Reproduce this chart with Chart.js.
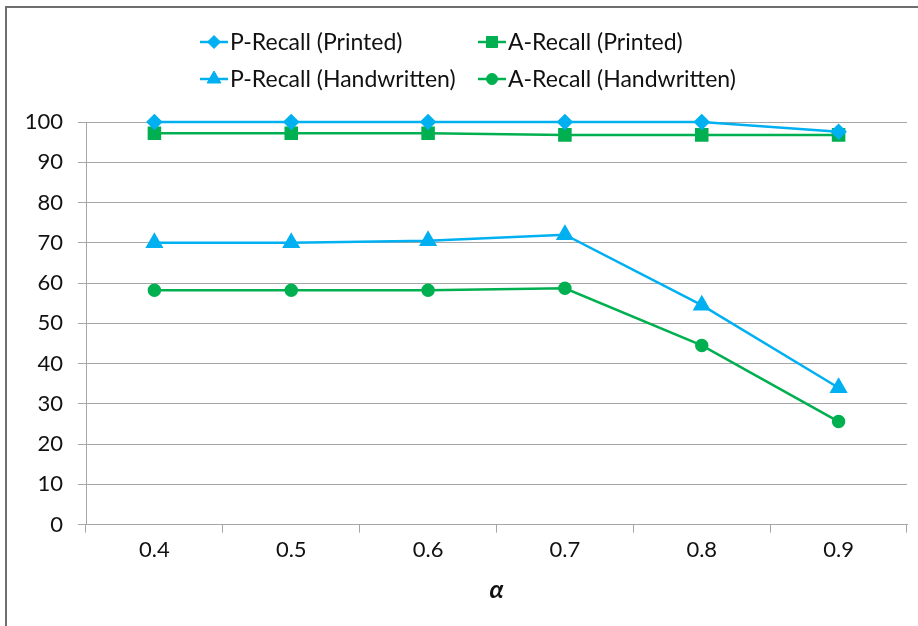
<!DOCTYPE html>
<html>
<head>
<meta charset="utf-8">
<title>Recall vs alpha</title>
<script src="https://cdn.jsdelivr.net/npm/chart.js@4/dist/chart.umd.min.js"></script>
<style>
  html, body { margin: 0; padding: 0; background: #ffffff; }
  #wrap { width: 918px; height: 626px; position: relative; }
</style>
</head>
<body>
<div id="wrap"><canvas id="chart" width="918" height="626"></canvas></div>
<script>
// Threshold values on the x axis
const alphaLabels = ['0.4', '0.5', '0.6', '0.7', '0.8', '0.9'];

// Recall (%) per threshold
const pRecallPrinted     = [100, 100, 100, 100, 100, 97.6];
const aRecallPrinted     = [97.2, 97.2, 97.2, 96.8, 96.8, 96.8];
const pRecallHandwritten = [70, 70, 70.5, 72, 54.5, 34];
const aRecallHandwritten = [58.2, 58.2, 58.2, 58.7, 44.5, 25.6];

// Y axis range
const yMin = 0, yMax = 100, yStep = 10;

const BLUE = '#00b0f0';
const GREEN = '#00b050';
const FONT = 'Lato, "Open Sans", sans-serif';

// White page background plus the frame drawn around the figure
const frame = {
  id: 'frame',
  beforeDraw(chart) {
    const { ctx, width, height } = chart;
    ctx.save();
    ctx.fillStyle = '#ffffff';
    ctx.fillRect(0, 0, width, height);
    ctx.restore();
  },
  afterDraw(chart) {
    const { ctx, width, height } = chart;
    ctx.save();
    ctx.strokeStyle = '#6e6e6e';
    ctx.lineWidth = 2;
    ctx.beginPath();
    ctx.moveTo(width, 7);
    ctx.lineTo(6, 7);
    ctx.lineTo(6, height);
    ctx.stroke();
    ctx.restore();
  }
};

// Two-column legend with a short line segment and the series marker
const legendGrid = {
  id: 'legendGrid',
  afterDraw(chart, args, opts) {
    const { ctx } = chart;
    chart.data.datasets.forEach((ds, i) => {
      const x = opts.columns[i % 2];
      const y = opts.rows[Math.floor(i / 2)];
      ctx.save();
      ctx.strokeStyle = ds.borderColor;
      ctx.lineWidth = ds.borderWidth;
      ctx.beginPath();
      ctx.moveTo(x, y);
      ctx.lineTo(x + opts.lineLength, y);
      ctx.stroke();
      ctx.fillStyle = ds.pointBackgroundColor;
      ctx.strokeStyle = ds.pointBorderColor;
      ctx.lineWidth = 1;
      Chart.helpers.drawPoint(ctx, {
        pointStyle: ds.pointStyle,
        rotation: 0,
        radius: ds.pointRadius,
        borderWidth: 1
      }, x + opts.lineLength / 2, y);
      ctx.fillStyle = '#111111';
      ctx.font = opts.fontSize + 'px ' + FONT;
      ctx.textBaseline = 'middle';
      ctx.textAlign = 'left';
      ctx.fillText(ds.label, x + opts.lineLength + 2, y + 1);
      ctx.restore();
    });
  }
};

function series(label, data, color, style, radius) {
  return {
    label,
    data,
    borderColor: color,
    backgroundColor: color,
    pointBackgroundColor: color,
    pointBorderColor: color,
    borderWidth: 2.5,
    pointStyle: style,
    pointRadius: radius,
    pointHoverRadius: radius,
    tension: 0,
    clip: false
  };
}

new Chart(document.getElementById('chart'), {
  type: 'line',
  data: {
    labels: alphaLabels,
    datasets: [
      series('P-Recall (Printed)', pRecallPrinted, BLUE, 'rectRot', 6.5),
      series('A-Recall (Printed)', aRecallPrinted, GREEN, 'rect', 7.8),
      series('P-Recall (Handwritten)', pRecallHandwritten, BLUE, 'triangle', 8),
      series('A-Recall (Handwritten)', aRecallHandwritten, GREEN, 'circle', 5.5)
    ]
  },
  options: {
    responsive: false,
    animation: false,
    devicePixelRatio: 1,
    layout: { padding: { top: 122, right: 11, bottom: 15, left: 0 } },
    plugins: {
      legend: { display: false },
      tooltip: { enabled: false },
      legendGrid: { columns: [200, 478], rows: [42, 79], lineLength: 28, fontSize: 23 }
    },
    scales: {
      x: {
        type: 'category',
        offset: true,
        grid: {
          offset: true,
          drawOnChartArea: false,
          drawTicks: true,
          tickLength: 8,
          color: '#a6a6a6',
          lineWidth: 1
        },
        border: { display: true, color: '#a6a6a6', width: 1 },
        ticks: {
          color: '#111111',
          font: { family: FONT, size: 22 },
          padding: 4,
          maxRotation: 0
        },
        title: {
          display: true,
          text: 'α',
          color: '#111111',
          font: { family: FONT, size: 25, weight: 'bold', style: 'italic' },
          padding: { top: 8, bottom: 6 }
        }
      },
      y: {
        min: yMin,
        max: yMax,
        grid: {
          color: '#a6a6a6',
          lineWidth: 1,
          tickLength: 8,
          drawTicks: true
        },
        border: { display: true, color: '#a6a6a6', width: 1 },
        ticks: {
          stepSize: yStep,
          color: '#111111',
          font: { family: FONT, size: 22 },
          padding: 15
        },
        afterFit(scale) { scale.width = 86; }
      }
    }
  },
  plugins: [frame, legendGrid]
});
</script>
</body>
</html>
